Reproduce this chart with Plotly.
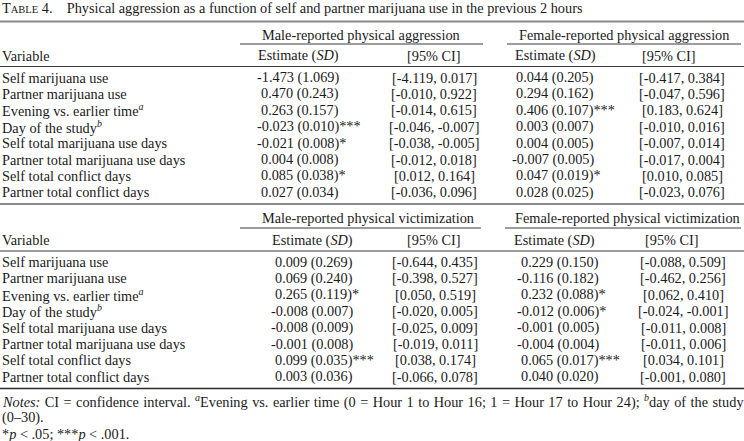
import plotly.graph_objects as go

# ---------------- data ----------------
variables = ["Self marijuana use", "Partner marijuana use", "Evening vs. earlier time",
             "Day of the study", "Self total marijuana use days",
             "Partner total marijuana use days", "Self total conflict days",
             "Partner total conflict days"]
var_notes = ["", "", "a", "b", "", "", "", ""]

male_aggr_est = [-1.473, 0.470, 0.263, -0.023, -0.021, 0.004, 0.085, 0.027]
male_aggr_sd = [1.069, 0.243, 0.157, 0.010, 0.008, 0.008, 0.038, 0.034]
male_aggr_sig = ["", "", "", "***", "*", "", "*", ""]
male_aggr_lo = [-4.119, -0.010, -0.014, -0.046, -0.038, -0.012, 0.012, -0.036]
male_aggr_hi = [0.017, 0.922, 0.615, -0.007, -0.005, 0.018, 0.164, 0.096]

female_aggr_est = [0.044, 0.294, 0.406, 0.003, 0.004, -0.007, 0.047, 0.028]
female_aggr_sd = [0.205, 0.162, 0.107, 0.007, 0.005, 0.005, 0.019, 0.025]
female_aggr_sig = ["", "", "***", "", "", "", "*", ""]
female_aggr_lo = [-0.417, -0.047, 0.183, -0.010, -0.007, -0.017, 0.010, -0.023]
female_aggr_hi = [0.384, 0.596, 0.624, 0.016, 0.014, 0.004, 0.085, 0.076]

male_vict_est = [0.009, 0.069, 0.265, -0.008, -0.008, -0.001, 0.099, 0.003]
male_vict_sd = [0.269, 0.240, 0.119, 0.007, 0.009, 0.008, 0.035, 0.036]
male_vict_sig = ["", "", "*", "", "", "", "***", ""]
male_vict_lo = [-0.644, -0.398, 0.050, -0.020, -0.025, -0.019, 0.038, -0.066]
male_vict_hi = [0.435, 0.527, 0.519, 0.005, 0.009, 0.011, 0.174, 0.078]

female_vict_est = [0.229, -0.116, 0.232, -0.012, -0.001, -0.004, 0.065, 0.040]
female_vict_sd = [0.150, 0.182, 0.088, 0.006, 0.005, 0.004, 0.017, 0.020]
female_vict_sig = ["", "", "*", "*", "", "", "***", ""]
female_vict_lo = [-0.088, -0.462, 0.062, -0.024, -0.011, -0.011, 0.034, -0.001]
female_vict_hi = [0.509, 0.256, 0.410, -0.001, 0.008, 0.006, 0.101, 0.080]

title_text = "Physical aggression as a function of self and partner marijuana use in the previous 2 hours"
group_titles = [["Male-reported physical aggression", "Female-reported physical aggression"],
                ["Male-reported physical victimization", "Female-reported physical victimization"]]

# ---------------- layout helpers ----------------
W, H = 744, 441
FONT = "Liberation Serif"
FS = 14.3
TXT = "#1a1a1a"
HYPH = 4.3

annotations = []
shapes = []


def text(x, y, s, anchor="left", size=FS):
    annotations.append(dict(x=x, y=y, xref="x", yref="y", text=s, showarrow=False,
                            xanchor=anchor, yanchor="middle",
                            font=dict(family=FONT, size=size, color=TXT)))


def hline(x0, x1, y, width=1.0, color="#3a3a3a"):
    shapes.append(dict(type="line", xref="x", yref="y", x0=x0, x1=x1, y0=y, y1=y,
                       line=dict(color=color, width=width)))


def est_str(e, sd, sig):
    return f"{e:.3f} ({sd:.3f}){sig}"


def ci_str(lo, hi):
    return f"[{lo:.3f}, {hi:.3f}]"


# title
text(0, 8, "T<span style='font-size:10.5px'>ABLE</span> 4.&nbsp;&nbsp;&nbsp; " + title_text)
hline(0, 744, 21.5, width=2, color="#8a8a8a")

sections = [
    dict(top=21.5, grp_y=35, ul_y=44, head_y=55.5, rule_y=66.5, row0=77.5, step=16.4,
         ul=[(240, 483), (507, 741)], gx=[361, 624],
         est_x=[259, 514], est_hx=[298, 555], ci_x=[434, 682], ci_hx=[434, 669],
         data=[(male_aggr_est, male_aggr_sd, male_aggr_sig, male_aggr_lo, male_aggr_hi),
               (female_aggr_est, female_aggr_sd, female_aggr_sig, female_aggr_lo, female_aggr_hi)]),
    dict(top=204, grp_y=218, ul_y=228, head_y=240, rule_y=251, row0=262, step=16.4,
         ul=[(240, 481), (505, 741)], gx=[368, 627],
         est_x=[273, 519], est_hx=[312, 554], ci_x=[435, 683], ci_hx=[434, 672],
         data=[(male_vict_est, male_vict_sd, male_vict_sig, male_vict_lo, male_vict_hi),
               (female_vict_est, female_vict_sd, female_vict_sig, female_vict_lo, female_vict_hi)]),
]

for si, sec in enumerate(sections):
    if si == 1:
        hline(0, 744, sec["top"], width=2, color="#8a8a8a")
    for g in range(2):
        x0, x1 = sec["ul"][g]
        hline(x0, x1, sec["ul_y"], width=1.2)
        text(sec["gx"][g], sec["grp_y"], group_titles[si][g], anchor="center")
        text(sec["est_hx"][g], sec["head_y"], "Estimate (<i>SD</i>)", anchor="center")
        text(sec["ci_hx"][g], sec["head_y"], "[95% CI]", anchor="center")
    text(0, sec["head_y"], "Variable")
    hline(0, 744, sec["rule_y"], width=1.2)
    for i, v in enumerate(variables):
        y = sec["row0"] + i * sec["step"]
        lab = v + (f"<sup><i>{var_notes[i]}</i></sup>" if var_notes[i] else "")
        text(0, y, lab)
        for g in range(2):
            est, sd, sig, lo, hi = sec["data"][g]
            xe = sec["est_x"][g] - (HYPH if est[i] < 0 else 0)
            text(xe, y, est_str(est[i], sd[i], sig[i]))
            text(sec["ci_x"][g], y, ci_str(lo[i], hi[i]), anchor="center")

hline(0, 744, 388.5, width=1.3, color="#2a2a2a")

text(0, 401.5, "<span style='word-spacing:0.9px'><i>Notes:</i> CI = confidence interval. "
               "<sup><i>a</i></sup>Evening vs. earlier time "
               "(0 = Hour 1 to Hour 16; 1 = Hour 17 to Hour 24); <sup><i>b</i></sup>day of the study</span>")
text(0, 417.5, "(0–30).")
text(0, 433.5, "*<i>p</i> &lt; .05; ***<i>p</i> &lt; .001.")

fig = go.Figure()
fig.update_layout(
    width=W, height=H, margin=dict(l=0, r=0, t=0, b=0),
    paper_bgcolor="white", plot_bgcolor="white",
    xaxis=dict(range=[0, W], visible=False, fixedrange=True),
    yaxis=dict(range=[H, 0], visible=False, fixedrange=True),
    annotations=annotations, shapes=shapes, showlegend=False,
)
fig.write_html("out.html", config={"displayModeBar": False},
               post_script="document.body.style.margin='0';document.body.style.overflow='hidden';")
